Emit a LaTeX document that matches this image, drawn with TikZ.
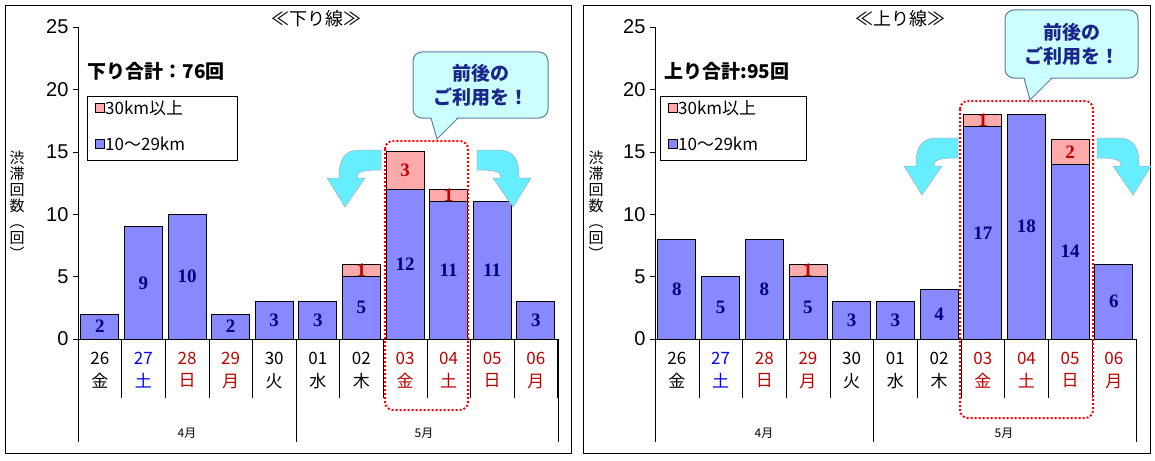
\documentclass[tikz,border=0pt]{standalone}
\usepackage{fontspec}
\setmainfont{Liberation Sans}
\newfontfamily\jp{Noto Sans CJK JP}
\newfontfamily\ser{Liberation Serif}
\definecolor{barblue}{HTML}{8888FF}
\definecolor{barpink}{HTML}{FFAAAA}
\definecolor{navy}{HTML}{000080}
\definecolor{dred}{HTML}{C00000}
\definecolor{cy}{HTML}{66EEFF}
\definecolor{cybox}{HTML}{CCFFFF}
\definecolor{cyedge}{HTML}{5A7FA0}
\tikzset{
 bar/.style={draw=black,fill=barblue,line width=0.8pt},
 barp/.style={draw=black,fill=barpink,line width=0.8pt},
 val/.style={font=\ser\bfseries\fontsize{19}{19}\selectfont,text=navy},
 valp/.style={font=\ser\bfseries\fontsize{19}{19}\selectfont,text=dred},
 tick/.style={font=\fontsize{20}{20}\selectfont,anchor=east},
 dt/.style={font=\jp\fontsize{17}{18}\selectfont},
 lg/.style={anchor=west,font=\jp\fontsize{17}{17}\selectfont,inner sep=1pt},
 mon/.style={font=\jp\fontsize{12}{12}\selectfont},
 panel/.style={draw=black,line width=0.8pt},
 hi/.style={draw=red,line width=2pt,dotted,rounded corners=8pt},
 arr/.style={fill=cy,draw=cyedge!60,line width=0.5pt},
}
\newcommand{\curvarr}{%
 \path[arr] (0,0) -- (-20,0) .. controls (-38,0) and (-42,10) .. (-42,28) -- (-54,28) -- (-36,57) -- (-16,28) -- (-24,28) .. controls (-24,22) and (-20,20) .. (0,20) -- cycle;}
\newcommand{\chart}[2]{%
 \draw[line width=0.8pt] (#1,27) -- (#1,339);
 \foreach \v in {0,5,...,25}{\draw (#1,339-12.48*\v) -- (#1-5,339-12.48*\v);
   \node[tick] (t\v) at (#1-6,339-12.48*\v) {\v};}
 \node[font=\jp\fontsize{15}{16}\selectfont,align=center,inner sep=0pt] (yl) at (#2,205) {渋\\滞\\回\\数\\︵\\回\\︶};
}
\begin{document}
\begin{tikzpicture}[x=1pt,y=-1pt]
\useasboundingbox (0,0) rectangle (1155,460);
\fill[white] (0,0) rectangle (1155,460);
\draw[panel] (5,5) rectangle (571,453);
\draw[panel] (583,5) rectangle (1150,453);
% ---------- LEFT ----------
\chart{78}{17}
\node[font=\jp\fontsize{18}{18}\selectfont] (tl) at (316,19) {≪下り線≫};
\node[font=\jp\bfseries\fontsize{19}{19}\selectfont,anchor=west] (sl) at (84,71) {下り合計：76回};
\foreach[count=\i] \a/\b in {2/0,9/0,10/0,2/0,3/0,3/0,5/1,12/3,11/1,11/0,3/0}{
 \pgfmathsetmacro\cx{78+43.6*(\i-0.5)}
 \pgfmathsetmacro\ya{339-12.48*\a}
 \pgfmathsetmacro\yb{339-12.48*(\a+\b)}
 \draw[bar] (\cx-19,339) rectangle (\cx+19,\ya);
 \node[val] (lb\i) at (\cx,{(339+\ya)/2}) {\a};
 \ifnum\b>0
  \draw[barp] (\cx-19,\ya) rectangle (\cx+19,\yb);
  \node[valp] (lp\i) at (\cx,{(\ya+\yb)/2}) {\b};
 \fi
}
\draw[line width=0.8pt] (78,339) -- (558,339);
\foreach[count=\i] \d/\w/\c in {26/金/black,27/土/blue,28/日/dred,29/月/dred,30/火/black,01/水/black,02/木/black,03/金/dred,04/土/dred,05/日/dred,06/月/dred}{
 \pgfmathsetmacro\cx{78+43.6*(\i-0.5)}
 \node[dt,text=\c] (ld\i) at (\cx,358) {\d};
 \node[dt,text=\c] (lw\i) at (\cx,381) {\w};
 \draw ({78+43.6*\i},339) -- ({78+43.6*\i},398);
}
\draw (78,339) -- (78,442); \draw (296,339) -- (296,442); \draw (558,339) -- (558,442);
\node[mon] (m4l) at (187,433) {4月};
\node[mon] (m5l) at (424,433) {5月};
\draw[line width=0.8pt,fill=white] (87,96) rectangle (237,160);
\draw[fill=barpink] (95,103) rectangle (104,112); \node[lg] (lg1) at (104,108) {30km以上};
\draw[fill=barblue] (95,139) rectangle (104,148); \node[lg] (lg2) at (104,144) {10～29km};
\draw[hi] (385,141) rectangle (468,410);
\path[fill=cybox,draw=cyedge,line width=1pt,rounded corners=9pt] (413,52) rectangle (548,118);
\path[fill=cybox] (431,116) -- (437,139) -- (458,116) -- cycle;
\draw[cyedge,line width=1pt] (431,118) -- (437,139) -- (458,118);
\node[font=\jp\bfseries\fontsize{19}{24}\selectfont,text=navy!70!cyedge,align=center] (cl) at (481,85) {前後の\\ご利用を！};
\begin{scope}[shift={(381,150)}]\curvarr\end{scope}
\begin{scope}[shift={(477,150)},xscale=-1]\curvarr\end{scope}
% ---------- RIGHT ----------
\chart{655}{596}
\node[font=\jp\fontsize{18}{18}\selectfont] (tr) at (900,19) {≪上り線≫};
\node[font=\jp\bfseries\fontsize{19}{19}\selectfont,anchor=west] (sr) at (661,71) {上り合計:95回};
\foreach[count=\i] \a/\b in {8/0,5/0,8/0,5/1,3/0,3/0,4/0,17/1,18/0,14/2,6/0}{
 \pgfmathsetmacro\cx{655+43.7*(\i-0.5)}
 \pgfmathsetmacro\ya{339-12.48*\a}
 \pgfmathsetmacro\yb{339-12.48*(\a+\b)}
 \draw[bar] (\cx-19,339) rectangle (\cx+19,\ya);
 \node[val] (rb\i) at (\cx,{(339+\ya)/2}) {\a};
 \ifnum\b>0
  \draw[barp] (\cx-19,\ya) rectangle (\cx+19,\yb);
  \node[valp] (rp\i) at (\cx,{(\ya+\yb)/2}) {\b};
 \fi
}
\draw[line width=0.8pt] (655,339) -- (1136,339);
\foreach[count=\i] \d/\w/\c in {26/金/black,27/土/blue,28/日/dred,29/月/dred,30/火/black,01/水/black,02/木/black,03/金/dred,04/土/dred,05/日/dred,06/月/dred}{
 \pgfmathsetmacro\cx{655+43.7*(\i-0.5)}
 \node[dt,text=\c] (rd\i) at (\cx,358) {\d};
 \node[dt,text=\c] (rw\i) at (\cx,381) {\w};
 \draw ({655+43.7*\i},339) -- ({655+43.7*\i},398);
}
\draw (655,339) -- (655,442); \draw (873,339) -- (873,442); \draw (1136,339) -- (1136,442);
\node[mon] (m4r) at (764,433) {4月};
\node[mon] (m5r) at (1004,433) {5月};
\draw[line width=0.8pt,fill=white] (660,96) rectangle (806,160);
\draw[fill=barpink] (668,103) rectangle (677,112); \node[lg] (rg1) at (677,108) {30km以上};
\draw[fill=barblue] (668,139) rectangle (677,148); \node[lg] (rg2) at (677,144) {10～29km};
\draw[hi] (960,101) rectangle (1093,418);
\path[fill=cybox,draw=cyedge,line width=1pt,rounded corners=9pt] (1005,10) rectangle (1138,78);
\path[fill=cybox] (1024,76) -- (1030,100) -- (1052,76) -- cycle;
\draw[cyedge,line width=1pt] (1024,78) -- (1030,100) -- (1052,78);
\node[font=\jp\bfseries\fontsize{19}{24}\selectfont,text=navy!70!cyedge,align=center] (cr) at (1072,44) {前後の\\ご利用を！};
\begin{scope}[shift={(958,138)}]\curvarr\end{scope}
\begin{scope}[shift={(1097,138)},xscale=-1]\curvarr\end{scope}
\end{tikzpicture}
\end{document}
